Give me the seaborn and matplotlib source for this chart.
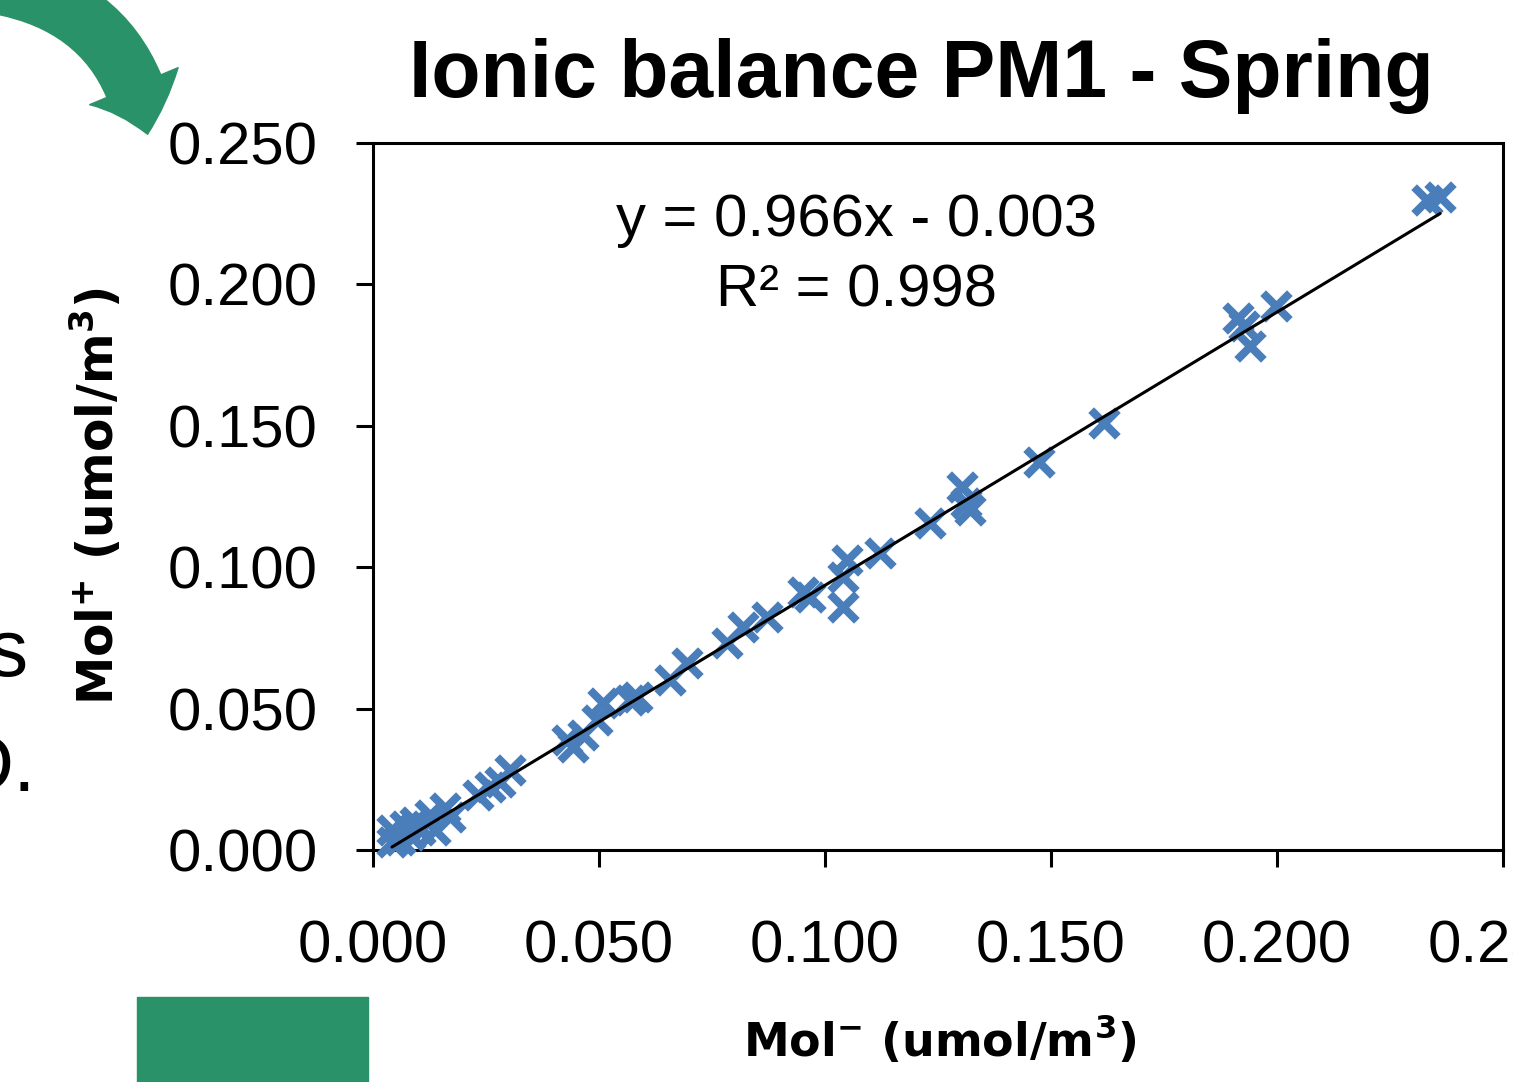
import numpy as np
import pandas as pd
import matplotlib
matplotlib.use("Agg")
import matplotlib.pyplot as plt
import seaborn as sns
from matplotlib.patches import Rectangle, FancyArrowPatch

# anion / cation sums (umol/m3)
mol_neg = [0.2332, 0.2361, 0.1914, 0.1927, 0.1940, 0.1998, 0.1617, 0.1473,
           0.1303, 0.1312, 0.1321, 0.1232, 0.1122, 0.1049, 0.1040, 0.1040,
           0.0967, 0.0951, 0.0872, 0.0819, 0.0783, 0.0695, 0.0657, 0.0584,
           0.0569, 0.0509, 0.0496, 0.0465, 0.0429, 0.0442, 0.0303, 0.0281,
           0.0259, 0.0232, 0.0159, 0.0126, 0.0170, 0.0093, 0.0071, 0.0042,
           0.0042, 0.0060, 0.0082, 0.0104, 0.0137]
mol_pos = [0.2298, 0.2309, 0.1881, 0.1853, 0.1782, 0.1924, 0.1510, 0.1372,
           0.1284, 0.1227, 0.1202, 0.1156, 0.1050, 0.1025, 0.0965, 0.0859,
           0.0895, 0.0912, 0.0824, 0.0789, 0.0732, 0.0661, 0.0601, 0.0541,
           0.0530, 0.0520, 0.0460, 0.0407, 0.0389, 0.0364, 0.0283, 0.0240,
           0.0223, 0.0194, 0.0149, 0.0124, 0.0117, 0.0099, 0.0085, 0.0071,
           0.0028, 0.0035, 0.0053, 0.0071, 0.0071]

slope = 0.966
intercept = -0.003
r2 = 0.998

ticks = [0.0, 0.05, 0.10, 0.15, 0.20, 0.25]
tick_labels = ["0.000", "0.050", "0.100", "0.150", "0.200", "0.250"]

df = pd.DataFrame({"neg": mol_neg, "pos": mol_pos})

sns.set_theme(style="ticks")
plt.rcParams["font.family"] = ["Liberation Sans", "DejaVu Sans"]
plt.rcParams["text.color"] = "black"
plt.rcParams["axes.labelcolor"] = "black"

W, H = 1513, 1082
fig = plt.figure(figsize=(W / 100, H / 100), dpi=100)
ax = fig.add_axes([373 / W, 1 - 850 / H, 1130 / W, 707 / H])

sns.scatterplot(data=df, x="neg", y="pos", marker="x", s=370, linewidth=5.8,
                color="#4a7ebb", ax=ax, zorder=3, clip_on=False)

xs = np.array([df["neg"].min(), df["neg"].max()])
sns.lineplot(x=xs, y=slope * xs + intercept, color="black", linewidth=2.2,
             ax=ax, zorder=4)

ax.set_xlim(0, 0.25)
ax.set_ylim(0, 0.25)
ax.set_xticks(ticks)
ax.set_xticklabels(tick_labels)
ax.set_yticks(ticks)
ax.set_yticklabels(tick_labels)
ax.tick_params(axis="both", labelsize=43, length=12, width=2.2, color="black",
               labelcolor="black", direction="out")
ax.tick_params(axis="x", pad=38)
ax.tick_params(axis="y", pad=28)
for sp in ax.spines.values():
    sp.set_visible(True)
    sp.set_linewidth(2.2)
    sp.set_color("black")

ax.set_xlabel(r"Mol$^{\mathbf{-}}$ (umol/m$^{\mathbf{3}}$)", fontsize=33,
              fontweight="bold", family="DejaVu Sans")
ax.set_ylabel(r"Mol$^{\mathbf{+}}$ (umol/m$^{\mathbf{3}}$)", fontsize=35,
              fontweight="bold", family="DejaVu Sans")
ax.xaxis.set_label_coords((940 - 373) / 1130, (850 - 1014) / 707)
ax.yaxis.set_label_coords((124 - 373) / 1130, 0.5)

ax.text(0.428, 0.89, f"y = {slope:.3f}x - {abs(intercept):.3f}",
        transform=ax.transAxes, ha="center", va="center", fontsize=43)
ax.text(0.428, 0.79, f"R\u00b2 = {r2:.3f}", transform=ax.transAxes,
        ha="center", va="center", fontsize=43)

fig.text(921 / W, 1 - 76 / H, "Ionic balance PM1 - Spring", ha="center",
         va="center", fontsize=58, fontweight="bold")

# slide fragments around the chart
green = "#2a9268"
fig.patches.append(Rectangle((137 / W, 0), (368 - 137) / W, (1082 - 997) / H,
                             transform=fig.transFigure, color=green))
fig.patches.append(FancyArrowPatch((0 / W, 1 + 15 / H), (148 / W, 1 - 137 / H),
                                   transform=fig.transFigure,
                                   connectionstyle="arc3,rad=-0.35",
                                   arrowstyle="simple,head_width=2.3,head_length=1.2,tail_width=1.4",
                                   mutation_scale=30, color=green))
fig.text(-12 / W, 1 - 655 / H, "s", fontsize=58, ha="left", va="center")
fig.text(-45 / W, 1 - 770 / H, "D.", fontsize=58, ha="left", va="center")

fig.savefig("out.png", dpi=100)
